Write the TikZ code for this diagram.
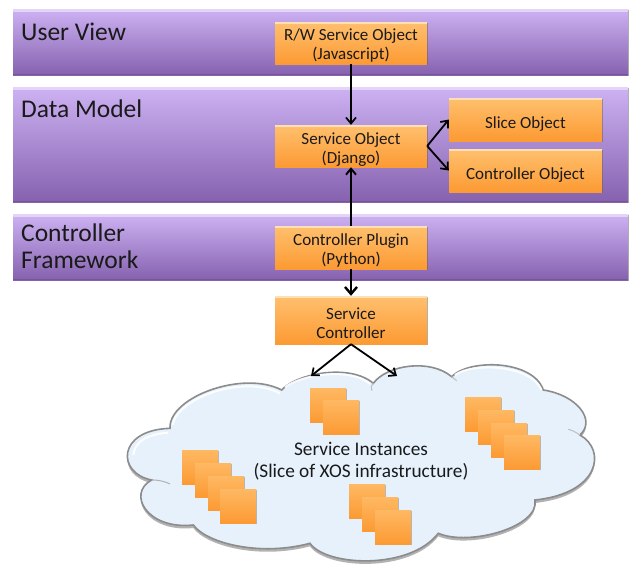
\documentclass[tikz,border=0pt]{standalone}
\usepackage{fontspec}
\setmainfont{Carlito}
\usetikzlibrary{arrows.meta,shadows,positioning}
\definecolor{barTop}{HTML}{CDB2F3}
\definecolor{barBot}{HTML}{8561AE}
\definecolor{boxTop}{HTML}{FFC06E}
\definecolor{boxBot}{HTML}{FC9A33}
\definecolor{ink}{HTML}{1A1A1A}
\definecolor{cloudFill}{HTML}{E6F1FC}
\newcommand{\boxtxt}[2]{\raisebox{#1}[0pt][0pt]{\begin{tabular}{@{}c@{}}#2\end{tabular}}}
\tikzset{
  softshadow/.style={drop shadow={shadow xshift=0.6pt,shadow yshift=-1.2pt,opacity=.45,fill=black!70}},
  bar/.style={rectangle,inner sep=0pt,anchor=north west,top color=barTop,bottom color=barBot,softshadow,
    path picture={\fill[white,opacity=.45] (path picture bounding box.north west) rectangle ([yshift=-3pt]path picture bounding box.north east);
    \fill[black,opacity=.12] (path picture bounding box.south west) rectangle ([yshift=1.5pt]path picture bounding box.south east);}},
  barlabel/.style={anchor=north west,inner sep=0pt,font=\fontsize{25.5}{26.5}\selectfont,text=ink,align=left},
  orangebox/.style={rectangle,inner sep=0pt,top color=boxTop,bottom color=boxBot,softshadow,
    font=\fontsize{17}{19}\selectfont,text=ink,align=center,minimum width=152pt,
    path picture={\fill[white,opacity=.5] (path picture bounding box.north west) rectangle ([yshift=-2pt]path picture bounding box.north east);}},
  inst/.style={rectangle,inner sep=0pt,anchor=north west,minimum width=36pt,minimum height=34pt,top color=boxTop!80!boxBot,bottom color=boxBot,
    drop shadow={shadow xshift=0.4pt,shadow yshift=-.8pt,opacity=.35,fill=black!70}},
  flow/.style={draw=black,line width=2.1pt,-{Straight Barb[length=6pt,width=10pt,line width=1.9pt]}},
  thinflow/.style={draw=black,line width=1.8pt,-{Straight Barb[length=6pt,width=10pt,line width=1.7pt]}},
  cloudtext/.style={font=\fontsize{19.3}{22}\selectfont,text=ink,align=center,inner sep=0pt},
  cloudpath/.style={x=.3333pt,y=-.3333pt},
}
\newcommand{\cloudoutline}{
  (180,292) .. controls (180,200) and (400,120) .. (515,180)
  .. controls (560,130) and (720,100) .. (790,160)
  .. controls (830,105) and (960,85) .. (1025,140)
  .. controls (1080,85) and (1270,90) .. (1300,180)
  .. controls (1400,195) and (1460,270) .. (1410,315)
  .. controls (1490,360) and (1470,490) .. (1275,510)
  .. controls (1290,590) and (1080,650) .. (985,610)
  .. controls (900,720) and (650,710) .. (600,640)
  .. controls (450,680) and (290,640) .. (250,585)
  .. controls (110,600) and (50,490) .. (125,450)
  .. controls (20,430) and (20,300) .. (180,295) -- cycle
}
\begin{document}
\begin{tikzpicture}[x=1pt,y=-1pt]
\useasboundingbox (0,0) rectangle (630,563);
\fill[white] (0,0) rectangle (630,563);

% bands
\node[bar,minimum width=615pt,minimum height=66pt] (bandUser) at (13,9) {};
\node[bar,minimum width=615pt,minimum height=115pt] (bandData) at (13,87) {};
\node[bar,minimum width=615pt,minimum height=66pt] (bandCtl) at (13,214) {};
\node[barlabel] (lblUser) at (21,23) {User View};
\node[barlabel] (lblData) at (21,100) {Data Model};
\node[barlabel] (lblCtl) at (21,224) {Controller\\Framework};

% cloud
\begin{scope}[shift={(110,330)}]
  \begin{scope}[cloudpath]
    \fill[black!60,opacity=.5,shift={(0pt,-3pt)}] \cloudoutline;
    \path[fill=cloudFill,draw=black!45,line width=1.6pt] \cloudoutline;
    \draw[white,line width=2pt,opacity=.9] (188,285) .. controls (200,205) and (400,132) .. (510,190);
    \draw[white,line width=2pt,opacity=.9] (70,375) .. controls (75,330) and (120,312) .. (175,308);
    \draw[white,line width=2pt,opacity=.9] (525,172) .. controls (570,135) and (720,110) .. (780,162);
    \draw[white,line width=2pt,opacity=.9] (1035,135) .. controls (1085,98) and (1260,102) .. (1295,180);
    \draw[black!25,line width=1pt] (790,160) .. controls (783,168) and (782,175) .. (786,182);
    \draw[black!25,line width=1pt] (1025,140) .. controls (1030,145) and (1033,148) .. (1040,152);
    \draw[black!30,line width=1pt] (125,450) .. controls (150,450) and (165,455) .. (180,462);
    \draw[black!25,line width=1pt] (1410,315) .. controls (1395,305) and (1385,300) .. (1375,298);
  \end{scope}
\end{scope}

% instance stacks
\node[inst] (a1) at (310,388) {};
\node[inst] (a2) at (323,400) {};
\node[inst] (b1) at (465,397) {};
\node[inst] (b2) at (478,410) {};
\node[inst] (b3) at (491,423) {};
\node[inst] (b4) at (504,435) {};
\node[inst] (c1) at (182,450) {};
\node[inst] (c2) at (195,463) {};
\node[inst] (c3) at (208,476) {};
\node[inst] (c4) at (220,489) {};
\node[inst] (d1) at (349,484) {};
\node[inst] (d2) at (362,497) {};
\node[inst] (d3) at (375,510) {};

\node[cloudtext] (cloudlbl) at (361,461) {Service Instances\\(Slice of XOS infrastructure)};

% orange boxes
\node[orangebox,minimum height=42pt] (rw) at (351,43) {\boxtxt{-7.25pt}{R/W Service Object\\(Javascript)}};
\node[orangebox,minimum height=42pt] (svc) at (351,146) {\boxtxt{-8.25pt}{Service Object\\(Django)}};
\node[orangebox,minimum height=43pt,minimum width=153pt] (slice) at (525.5,119.5) {\boxtxt{-9.25pt}{Slice Object}};
\node[orangebox,minimum height=43pt,minimum width=153pt] (ctlobj) at (525.5,170.5) {\boxtxt{-9.25pt}{Controller Object}};
\node[orangebox,minimum height=43pt] (plugin) at (351,247.5) {\boxtxt{-7.75pt}{Controller Plugin\\(Python)}};
\node[orangebox,minimum height=48pt] (sctl) at (351,320) {\boxtxt{-9.75pt}{Service\\Controller}};

\coordinate (cloudL) at (311,376);
\coordinate (cloudR) at (397,376);

% connectors
\draw[thinflow] (rw.south) -- (svc.north);
\draw[flow] (plugin.north) -- (svc.south);
\draw[flow,line width=2.6pt,-{Straight Barb[length=7pt,width=12pt,line width=2.4pt]}] (plugin.south) -- (sctl.north);
\draw[thinflow] (svc.east) -- (slice.west);
\draw[thinflow] (svc.east) -- (ctlobj.west);
\draw[thinflow] (sctl.south) -- (cloudL);
\draw[thinflow] (sctl.south) -- (cloudR);
\end{tikzpicture}
\end{document}
